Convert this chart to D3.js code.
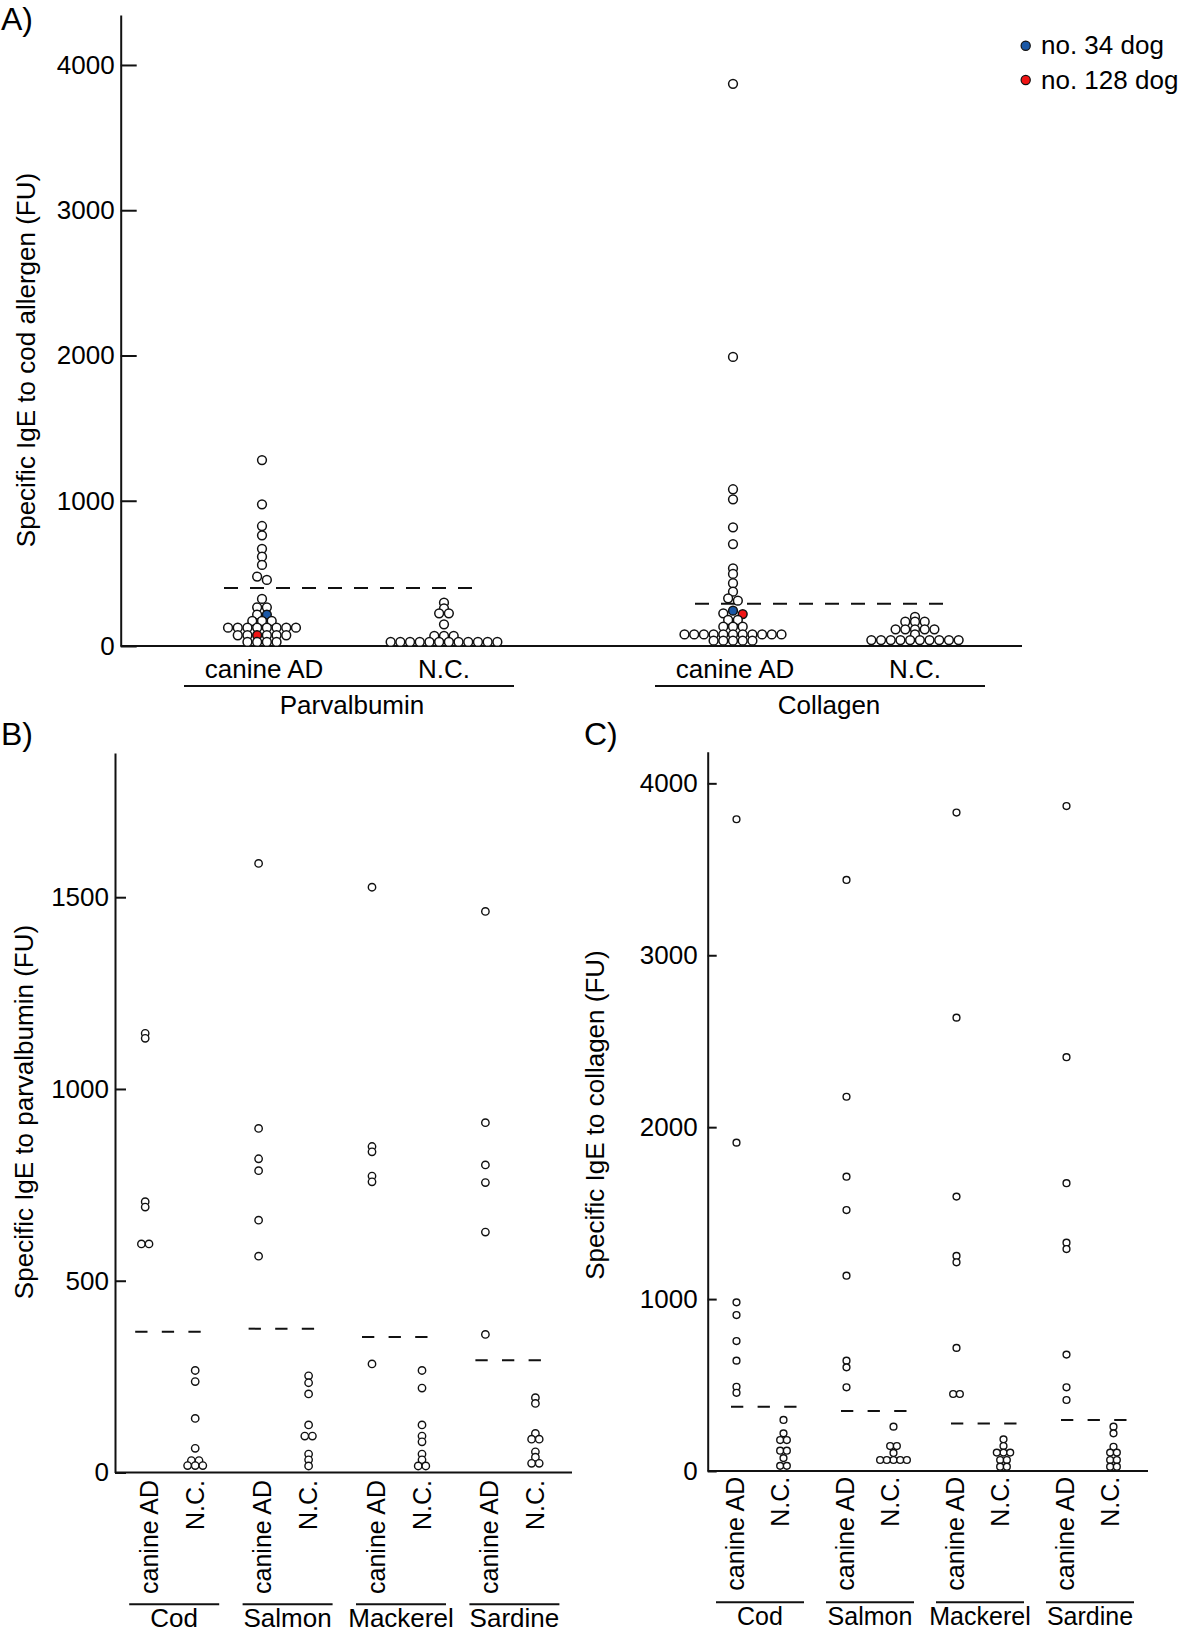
<!DOCTYPE html>
<html><head><meta charset="utf-8">
<script src="https://cdn.jsdelivr.net/npm/d3@7"></script>
<style>body{margin:0;background:#fff}</style>
</head><body><svg id="c" width="1181" height="1632"></svg>
<script>
// ---------------- DATA ----------------
// Panel A : specific IgE to cod allergen (FU)
const allergensA = ["Parvalbumin", "Collagen"];
const conditions = ["canine AD", "N.C."];
const parvAD = [1280, 975, 826, 762, 669, 615, 558, 478, 455, 324, 266, 266, 216, 172, 172, 172,
  126, 126, 126, 126, 126, 126, 126, 126, 74, 74, 74, 74, 74, 28, 28, 28, 28];
const parvNC = [298, 259, 225, 225, 149, 69, 69, 69, 28, 28, 28, 28, 28, 28, 28, 28, 28, 28, 28, 28];
const collAD = [3870, 1990, 1079, 1010, 817, 702, 535, 496, 432, 374, 328, 312, 225, 179, 179, 133, 133, 133,
  80, 80, 80, 80, 80, 80, 80, 80, 80, 80, 80, 37, 37, 37, 37, 37];
const collNC = [200, 167, 167, 167, 115, 115, 115, 115, 115, 80, 41, 41, 41, 41, 41, 41, 41, 41, 41, 41];
const thresholdA = [400, 291];
// highlighted dogs: [parvalbumin, collagen]
const dog34 = [216, 243];
const dog128 = [74, 220];
const legendLabels = ["no. 34 dog", "no. 128 dog"];
const legendColors = ["#1b58a6", "#f01414"];
const ticksA = [0, 1000, 2000, 3000, 4000];

// Panel B : specific IgE to parvalbumin (FU)
const fish = ["Cod", "Salmon", "Mackerel", "Sardine"];
const parvB_AD = [
  [1145, 1132, 706, 692, 596, 596],
  [1588, 897, 818, 787, 658, 564],
  [1526, 850, 836, 773, 758, 283],
  [1463, 912, 802, 756, 627, 360]
];
const parvB_NC = [
  [266, 237, 141, 63, 31, 31, 18, 18, 18],
  [252, 234, 205, 124, 95, 95, 48, 33, 17],
  [266, 220, 124, 95, 80, 48, 33, 17, 17],
  [195, 180, 102, 87, 87, 54, 40, 24, 24]
];
const thresholdB = [367, 375, 353, 293];
const ticksB = [0, 500, 1000, 1500];

// Panel C : specific IgE to collagen (FU)
const collC_AD = [
  [3791, 1910, 981, 907, 756, 642, 490, 455],
  [3438, 2177, 1712, 1518, 1136, 642, 603, 487],
  [3830, 2637, 1596, 1251, 1214, 716, 448, 448],
  [3868, 2407, 1674, 1328, 1291, 677, 487, 413]
];
const collC_NC = [
  [297, 219, 180, 180, 118, 118, 75, 30, 30],
  [258, 145, 145, 105, 64, 64, 64, 64, 64],
  [184, 145, 107, 107, 107, 64, 64, 25, 25],
  [258, 219, 141, 107, 107, 64, 64, 25, 25]
];
const thresholdC = [374, 349, 277, 297];
const ticksC = [0, 1000, 2000, 3000, 4000];

// ---------------- DRAWING ----------------
const FONT = '"Liberation Sans", Arial, Helvetica, sans-serif';
const INK = "#111";
const svg = d3.select("#c");
svg.append("rect").attr("width", 1181).attr("height", 1632).attr("fill", "#fff");

function txt(g, x, y, s, size, anchor) {
  return g.append("text").attr("x", x).attr("y", y).text(s)
    .attr("font-family", FONT).attr("font-size", size).attr("fill", "#000")
    .attr("text-anchor", anchor || "middle");
}
function line(g, x1, y1, x2, y2, w, dash) {
  const l = g.append("line").attr("x1", x1).attr("y1", y1).attr("x2", x2).attr("y2", y2)
    .attr("stroke", INK).attr("stroke-width", w);
  if (dash) l.attr("stroke-dasharray", dash);
  return l;
}
function yAxis(g, y, ticks, tickLen, pad, fs) {
  g.call(d3.axisLeft(y).tickValues(ticks).tickSizeInner(-tickLen).tickSizeOuter(0)
    .tickPadding(pad).tickFormat(d3.format("d")));
  g.select(".domain").attr("stroke", INK).attr("stroke-width", 2);
  g.selectAll(".tick line").attr("stroke", INK).attr("stroke-width", 2);
  g.selectAll(".tick text").attr("font-size", fs).attr("font-family", FONT).attr("fill", "#000");
}
function centerOut(n) {
  const o = [];
  if (n % 2) { o.push(0); for (let k = 1; o.length < n; k++) { o.push(-k); if (o.length < n) o.push(k); } }
  else { for (let k = 0.5; o.length < n; k++) { o.push(-k); o.push(k); } }
  return o;
}
// simple row-binned swarm: points closer than thr px share a row and spread symmetrically
function swarm(pts, y, thr, sp) {
  const s = pts.map(p => Object.assign({}, p, { py: y(p.v) })).sort((a, b) => a.py - b.py);
  const out = []; let cl = [];
  const flush = () => { const o = centerOut(cl.length); cl.forEach((p, i) => { p.dx = o[i] * sp; out.push(p); }); cl = []; };
  s.forEach(p => { if (cl.length && p.py - cl[0].py > thr) flush(); cl.push(p); });
  flush();
  return out;
}
function drawDots(g, pts, cx, r, sw) {
  g.selectAll(null).data(pts).join("circle")
    .attr("cx", d => cx + d.dx).attr("cy", d => d.py).attr("r", r)
    .attr("fill", d => d.fill || "#fff").attr("stroke", INK).attr("stroke-width", sw);
}

// ===== Panel A =====
const gA = svg.append("g");
const yA = d3.scaleLinear().domain([0, 4344]).range([646, 15]);
const gxA = d3.scalePoint().domain(allergensA).range([353, 824]);
const cxA = d3.scalePoint().domain(conditions).range([-91, 91]);
yAxis(gA.append("g").attr("transform", "translate(120.7,0)"), yA, ticksA, 16, 6, 26);
line(gA, 120.7, yA(0), 1022, yA(0), 2);
txt(gA, 1, 30, "A)", 32, "start");
gA.append("text").attr("transform", `translate(34.5,${360}) rotate(-90)`)
  .attr("text-anchor", "middle").attr("font-family", FONT).attr("font-size", 26).attr("fill", "#000")
  .text("Specific IgE to cod allergen (FU)");

const seriesA = [[parvAD, parvNC], [collAD, collNC]];
allergensA.forEach((al, i) => {
  const gc = gxA(al);
  // threshold
  line(gA, gc - 129, yA(thresholdA[i]), gc + 123, yA(thresholdA[i]), 2, "14 12");
  conditions.forEach((cond, j) => {
    let pts = seriesA[i][j].map(v => ({ v }));
    if (j === 0) {
      pts = [{ v: dog128[i], fill: legendColors[1] }].concat(pts, [{ v: dog34[i], fill: legendColors[0] }]);
    }
    const sw = swarm(pts, yA, 4, 9.7);
    drawDots(gA.append("g"), sw, gc + cxA(cond), 4.4, 1.5);
    txt(gA, gc + cxA(cond) + (j === 0 ? 2 : 0), 678.3, cond, 26);
  });
  line(gA, gc - 169, 686, gc + 161, 686, 2);
  txt(gA, gc + (i === 1 ? 5 : -1), 714, al, 26);
});
// legend
legendLabels.forEach((lab, i) => {
  const ly = [45.7, 80][i];
  gA.append("circle").attr("cx", 1025.7).attr("cy", ly).attr("r", 4.6)
    .attr("fill", legendColors[i]).attr("stroke", INK).attr("stroke-width", 1.2);
  txt(gA, 1041, ly + 8.5, lab, 26, "start");
});

// ===== Panels B and C =====
function fishPanel(cfg) {
  const g = svg.append("g");
  const y = d3.scaleLinear().domain([0, cfg.top]).range([cfg.y0, cfg.y1]);
  const gx = d3.scalePoint().domain(fish).range(cfg.gxRange);
  const cx = d3.scalePoint().domain(conditions).range([-cfg.half, cfg.half]);
  yAxis(g.append("g").attr("transform", `translate(${cfg.ax},0)`), y, cfg.ticks, cfg.tickLen, cfg.pad, 26);
  line(g, cfg.ax, cfg.y0, cfg.xEnd, cfg.y0, 2);
  txt(g, cfg.letterX, 745, cfg.letter, 32, "start");
  g.append("text").attr("transform", `translate(${cfg.titleX},${cfg.titleY}) rotate(-90)`)
    .attr("text-anchor", "middle").attr("font-family", FONT).attr("font-size", 26).attr("fill", "#000")
    .text(cfg.title);
  fish.forEach((f, i) => {
    const gc = gx(f);
    line(g, gc + cfg.thrShift - 33, y(cfg.thr[i]), gc + cfg.thrShift + 33, y(cfg.thr[i]), 2, "12.3 14.3");
    [cfg.ad[i], cfg.nc[i]].forEach((vals, j) => {
      const sw = swarm(vals.map(v => ({ v })), y, 3, cfg.sp);
      const x = gc + cx(conditions[j]);
      drawDots(g.append("g"), sw, x, cfg.r, 1.4);
      g.append("text").attr("transform", `translate(${x + cfg.labShift[j]},${cfg.y0 + cfg.labGap}) rotate(-90)`)
        .attr("dy", "0.35em").attr("text-anchor", "end").attr("font-family", FONT)
        .attr("font-size", 25).attr("fill", "#000").text(conditions[j]);
    });
    line(g, gc + cfg.ulShift - cfg.ulHalf, cfg.ulY, gc + cfg.ulShift + cfg.ulHalf, cfg.ulY, 2);
    txt(g, gc + cfg.ulShift, cfg.labY, f, cfg.groupFs);
  });
}
fishPanel({
  letter: "B)", letterX: 1, ax: 115, xEnd: 572, y0: 1472.5, y1: 753, top: 1876,
  ticks: ticksB, tickLen: 11, pad: 6, title: "Specific IgE to parvalbumin (FU)", titleX: 33, titleY: 1112,
  gxRange: [170.2, 510.4], half: 25, thr: thresholdB, thrShift: -2, ad: parvB_AD, nc: parvB_NC,
  sp: 7.6, r: 3.7, labShift: [4, 0], labGap: 7.5, ulY: 1604.3, ulShift: 4, ulHalf: 45, labY: 1627, groupFs: 26
});
fishPanel({
  letter: "C)", letterX: 584, ax: 707.7, xEnd: 1148, y0: 1471, y1: 751.7, top: 4184,
  ticks: ticksC, tickLen: 9, pad: 10, title: "Specific IgE to collagen (FU)", titleX: 604, titleY: 1115,
  gxRange: [760, 1090], half: 23.5, thr: thresholdC, thrShift: 4, ad: collC_AD, nc: collC_NC,
  sp: 6.7, r: 3.4, labShift: [-1, -3], labGap: 5.7, ulY: 1602.3, ulShift: 0, ulHalf: 44, labY: 1625, groupFs: 25
});
</script></body></html>
